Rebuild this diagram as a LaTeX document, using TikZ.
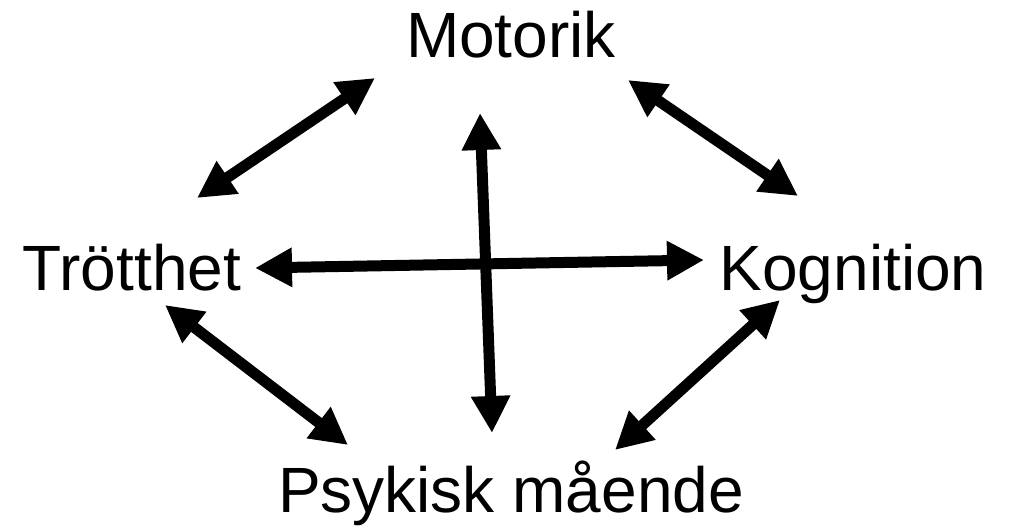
\documentclass[tikz,border=0pt]{standalone}
\usepackage{fontspec}
\setmainfont{Liberation Sans}
\usetikzlibrary{arrows.meta}
\begin{document}
\begin{tikzpicture}[x=1pt,y=-1pt,
  lbl/.style={font=\fontsize{64}{70}\selectfont, inner sep=0pt, anchor=base},
  dbl/.style={line width=11pt, {Triangle[length=37pt,width=37pt]}-{Triangle[length=37pt,width=37pt]}}]
\useasboundingbox (0,0) rectangle (1011,529);
\node[lbl] (mot) at (511,58) {Motorik};
\node[lbl] (tro) at (132,290) {Trötthet};
\node[lbl] (kog) at (853,290) {Kognition};
\node[lbl] (psy) at (511,512) {Psykisk mående};
\coordinate (ul1) at (375,78);  \coordinate (ul2) at (197,198);
\coordinate (ur1) at (628,80);  \coordinate (ur2) at (798,196);
\coordinate (ll1) at (165,305); \coordinate (ll2) at (348,445);
\coordinate (lr1) at (780,300); \coordinate (lr2) at (615,450);
\coordinate (h1) at (255,268);  \coordinate (h2) at (704,260);
\coordinate (v1) at (480,113);  \coordinate (v2) at (492,433);
\draw[dbl] (ul1) -- (ul2);
\draw[dbl] (ur1) -- (ur2);
\draw[dbl] (ll1) -- (ll2);
\draw[dbl] (lr1) -- (lr2);
\draw[dbl] (h1) -- (h2);
\draw[dbl] (v1) -- (v2);
\end{tikzpicture}
\end{document}
